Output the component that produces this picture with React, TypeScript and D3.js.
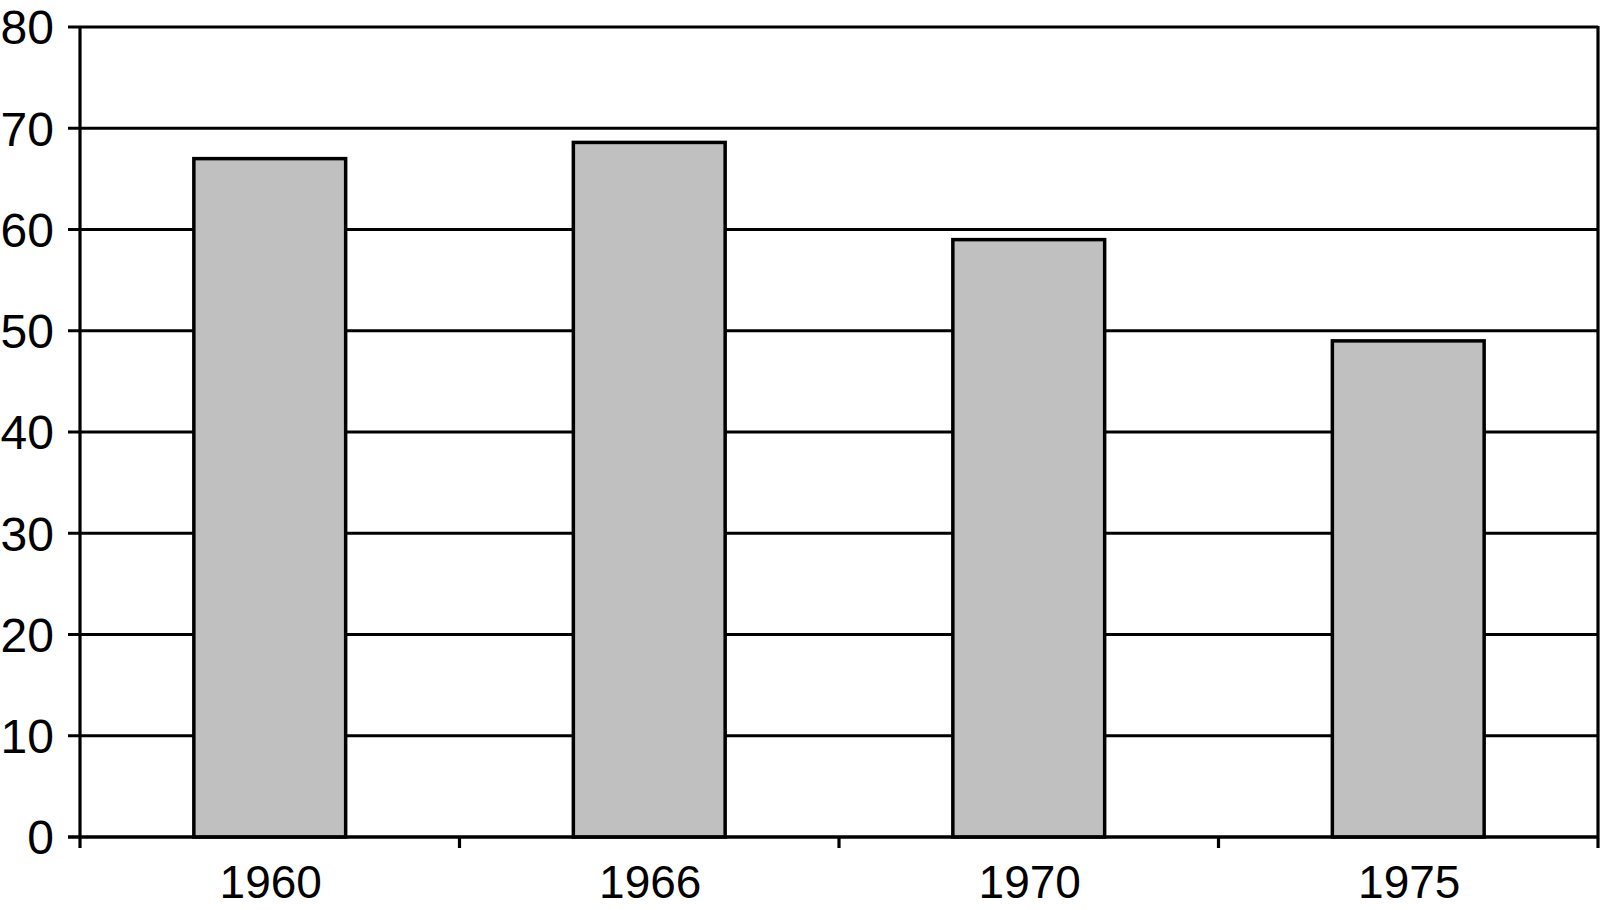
import React from 'react';
import * as d3 from 'd3';

const years = ['1960', '1966', '1970', '1975'];
const values = [67, 68.6, 59, 49];
const yTicks = [0, 10, 20, 30, 40, 50, 60, 70, 80];

export default function App() {
    const width = 1604, height = 910;
    const margin = { top: 27, right: 6, bottom: 73, left: 80 };
    const innerW = width - margin.left - margin.right;
    const innerH = height - margin.top - margin.bottom;

    const x = d3.scaleBand().domain(years).range([0, innerW]).paddingInner(0.6).paddingOuter(0.3);
    const xTickScale = d3.scaleLinear().domain([0, years.length]).range([0, innerW]);
    const y = d3.scaleLinear().domain([0, 80]).range([innerH, 0]);

    const font = '"Liberation Sans", Arial, sans-serif';

    return (
        <svg width={width} height={height} style={{ position: 'absolute', left: 0, top: 0, background: '#fff' }}>
            <g transform={`translate(${margin.left},${margin.top})`}>
                {/* gridlines */}
                {yTicks.map(t => (
                    <line key={'g' + t} x1={-12} x2={innerW} y1={y(t)} y2={y(t)} stroke="#000" strokeWidth={3.2} />
                ))}
                {/* bars */}
                {years.map((yr, i) => (
                    <rect key={yr} x={x(yr)} y={y(values[i])} width={x.bandwidth()} height={innerH - y(values[i])}
                          fill="#c0c0c0" stroke="#000" strokeWidth={3.5} />
                ))}
                {/* axes */}
                <line x1={0} x2={0} y1={y(80) - 1} y2={innerH + 11} stroke="#000" strokeWidth={3.2} />
                <line x1={innerW} x2={innerW} y1={y(80) - 1} y2={innerH + 11} stroke="#000" strokeWidth={3.2} />
                <line x1={-12} x2={innerW} y1={innerH} y2={innerH} stroke="#000" strokeWidth={3.2} />
                {d3.range(1, years.length).map(i => (
                    <line key={'xt' + i} x1={xTickScale(i)} x2={xTickScale(i)} y1={innerH} y2={innerH + 11}
                          stroke="#000" strokeWidth={3.2} />
                ))}
                {yTicks.map(t => (
                    <text key={'yl' + t} x={-26} y={y(t)} dy="0.36em" textAnchor="end"
                          fontFamily={font} fontSize={48} fill="#000">{t}</text>
                ))}
                {years.map(yr => (
                    <text key={'xl' + yr} x={(x(yr) || 0) + x.bandwidth() / 2 + 1} y={innerH + 61} textAnchor="middle"
                          fontFamily={font} fontSize={46} fill="#000">{yr}</text>
                ))}
            </g>
        </svg>
    );
}
